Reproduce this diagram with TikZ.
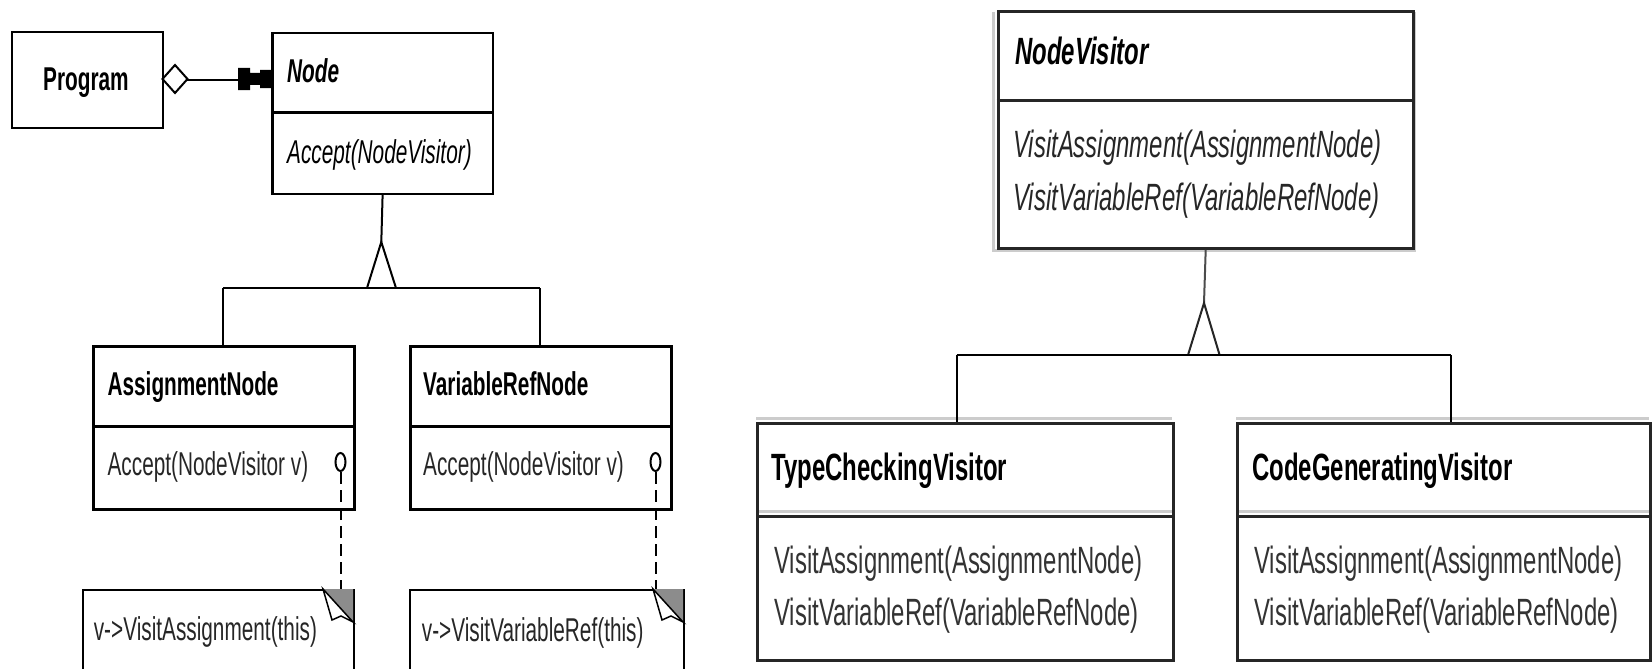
\documentclass[tikz,border=0pt]{standalone}
\usepackage{fontspec}
\setmainfont{Liberation Sans}[FakeStretch=0.63]
\usetikzlibrary{shapes.geometric}

\definecolor{foldgray}{HTML}{8C8C8C}
\definecolor{halogray}{HTML}{CCCCCC}

\tikzset{
  classbox/.style={draw, line width=2.5pt, inner sep=0pt, anchor=north west},
  visitorbox/.style={draw=black!85, line width=3pt, inner sep=0pt, anchor=north west},
  notebox/.style={draw, line width=2pt, inner sep=0pt, anchor=north west},
  divider/.style={line width=2.5pt},
  ltxt/.style={anchor=base west, inner sep=0pt, font=\fontsize{33}{40}\selectfont},
  rtxt/.style={anchor=base west, inner sep=0pt, font=\fontsize{38}{46}\selectfont},
  link/.style={line width=2pt},
  hook/.style={draw, ellipse, line width=2pt, minimum width=10pt, minimum height=18pt, inner sep=0pt},
  notelink/.style={line width=2pt, dash pattern=on 12pt off 6pt},
  halo/.style={draw=halogray, line width=3pt},
}

\begin{document}
\begin{tikzpicture}[x=1pt, y=-1pt]
  \useasboundingbox (0,0) rectangle (1652,669);
  \clip (0,0) rectangle (1652,669);

  % left half: the node classes
  \node[classbox, minimum width=151pt, minimum height=96pt] (program) at (10.7,30.7) {};
  \node[ltxt] (programname) at (43,90) {\bfseries Program};

  \node[classbox, minimum width=220.7pt, minimum height=161pt] (astnode) at (271,31.7) {};
  \draw[divider] (astnode.west |- 0,112.7) -- (astnode.east |- 0,112.7);
  \node[ltxt] (astnodename) at (287,82) {\bfseries\itshape Node};
  \node[ltxt] (astnodeop) at (287,163) {\itshape Accept(NodeVisitor)};

  \node[classbox, minimum width=261pt, minimum height=163.3pt] (assign) at (92.4,345) {};
  \draw[divider] (assign.west |- 0,426.7) -- (assign.east |- 0,426.7);
  \node[ltxt] (assignname) at (107.4,395) {\bfseries AssignmentNode};
  \node[ltxt, text=black!85] (assignop) at (107.4,475) {Accept(NodeVisitor v)};

  \node[classbox, minimum width=261pt, minimum height=163.3pt] (varref) at (409,345) {};
  \draw[divider] (varref.west |- 0,426.7) -- (varref.east |- 0,426.7);
  \node[ltxt] (varrefname) at (423,395) {\bfseries VariableRefNode};
  \node[ltxt, text=black!85] (varrefop) at (423,475) {Accept(NodeVisitor v)};

  % Program aggregates Node
  \draw[link] (program.east) -- (program.east -| astnode.west);
  \draw[link, fill=white] (162.5,79) -- (175,65) -- (187.5,79) -- (175,93) -- cycle;
  \fill (238,68) -- (250,68) -- (250,73) -- (260,73) -- (260,70) -- (271,70)
    -- (271,88) -- (260,88) -- (260,85) -- (250,85) -- (250,90) -- (238,90) -- cycle;

  % inheritance
  \coordinate (tipL) at (381.3,242);
  \coordinate (triL1) at (367,288);
  \coordinate (triL2) at (396,288);
  \coordinate (busL1) at (222.9,288);
  \coordinate (busL2) at (539.5,288);
  \draw[link] (astnode.south) -- (tipL);
  \draw[link] (triL1) -- (tipL) -- (triL2);
  \draw[link] (busL1) -- (busL2);
  \draw[link] (busL1) -- (busL1 |- assign.north);
  \draw[link] (busL2) -- (busL2 |- varref.north);

  % notes
  \node[notebox, minimum width=271pt, minimum height=100pt] (noteA) at (82,589) {};
  \node[ltxt, text=black!85] (noteAtext) at (93.6,640) {v->VisitAssignment(this)};
  \node[notebox, minimum width=274pt, minimum height=100pt] (noteB) at (409,589) {};
  \node[ltxt, text=black!85] (noteBtext) at (421.7,641) {v->VisitVariableRef(this)};

  \fill[foldgray] (323,589) -- (353,589) -- (353,622) -- cycle;
  \draw[line width=1.5pt, fill=white] (323,589) -- (332,620) -- (341,616) -- (353,622) -- cycle;
  \fill[foldgray] (653,589) -- (683,589) -- (683,622) -- cycle;
  \draw[line width=1.5pt, fill=white] (653,589) -- (662,620) -- (671,616) -- (683,622) -- cycle;

  \node[hook] (hookA) at (340.5,462) {};
  \node[hook] (hookB) at (655.5,462) {};
  \draw[notelink] (hookA.south) -- (hookA.south |- noteA.north);
  \draw[notelink] (hookB.south) -- (hookB.south |- noteB.north);

  % right half: the visitors
  \draw[halo] (993.7,12) -- (993.7,250.5) -- (1414.7,250.5) -- (1414.7,12);
  \node[visitorbox, minimum width=415pt, minimum height=237pt] (visitor) at (996.7,10) {};
  \draw[line width=3pt, draw=black!85] (visitor.west |- 0,100) -- (visitor.east |- 0,100);
  \node[rtxt] (visitorname) at (1015,65) {\bfseries\itshape NodeVisitor};
  \node[rtxt, text=black!85] (visitorop1) at (1013,157) {\itshape VisitAssignment(AssignmentNode)};
  \node[rtxt, text=black!85] (visitorop2) at (1013,210) {\itshape VisitVariableRef(VariableRefNode)};

  \draw[halo] (756.3,418) -- (1171.6,418);
  \draw[halo] (756.3,511) -- (1171.6,511);
  \node[visitorbox, minimum width=415.3pt, minimum height=237.6pt] (typecheck) at (756.3,421.7) {};
  \draw[line width=3pt, draw=black!85] (typecheck.west |- 0,516) -- (typecheck.east |- 0,516);
  \node[rtxt] (typecheckname) at (771,480) {\bfseries TypeCheckingVisitor};
  \node[rtxt, text=black!80] (typecheckop1) at (774,573) {VisitAssignment(AssignmentNode)};
  \node[rtxt, text=black!80] (typecheckop2) at (774,625) {VisitVariableRef(VariableRefNode)};

  \draw[halo] (1236,418) -- (1649,418);
  \draw[halo] (1236,511) -- (1649,511);
  \node[visitorbox, minimum width=413pt, minimum height=237.6pt] (codegen) at (1236,421.7) {};
  \draw[line width=3pt, draw=black!85] (codegen.west |- 0,516) -- (codegen.east |- 0,516);
  \node[rtxt] (codegenname) at (1252,480) {\bfseries CodeGeneratingVisitor};
  \node[rtxt, text=black!80] (codegenop1) at (1254,573) {VisitAssignment(AssignmentNode)};
  \node[rtxt, text=black!80] (codegenop2) at (1254,625) {VisitVariableRef(VariableRefNode)};

  \coordinate (tipR) at (1204,303);
  \coordinate (triR1) at (1188,355);
  \coordinate (triR2) at (1219.6,355);
  \coordinate (busR1) at (956.6,355);
  \coordinate (busR2) at (1451,355);
  \draw[link, draw=black!70] (visitor.south) -- (tipR);
  \draw[link, draw=black!85] (triR1) -- (tipR) -- (triR2);
  \draw[link] (busR1) -- (busR2);
  \draw[link] (busR1) -- (busR1 |- typecheck.north);
  \draw[link] (busR2) -- (busR2 |- codegen.north);
\end{tikzpicture}
\end{document}
